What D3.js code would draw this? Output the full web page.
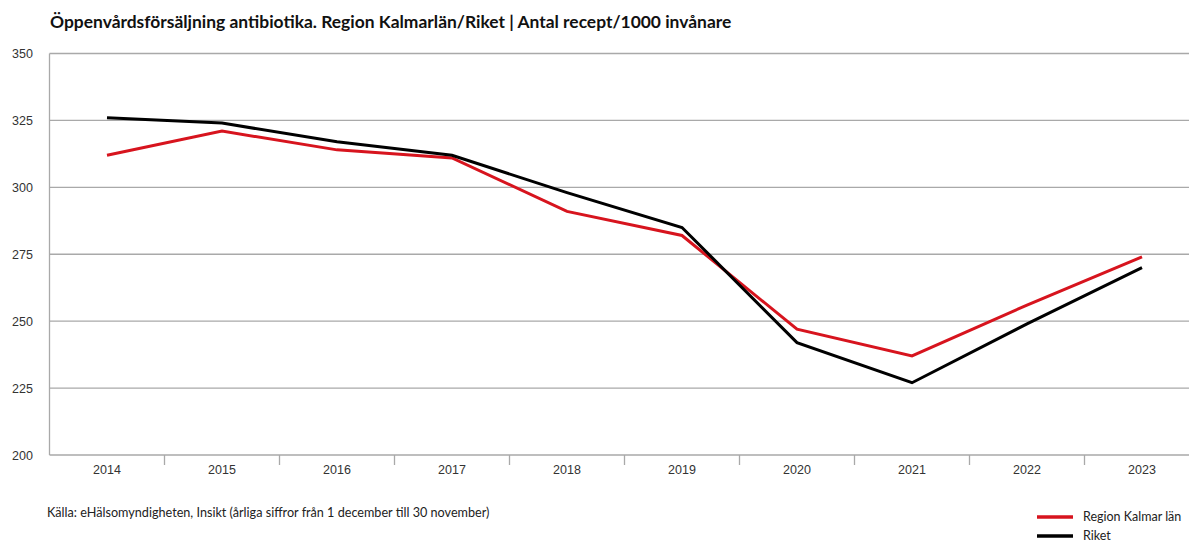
<!DOCTYPE html>
<html lang="sv">
<head>
<meta charset="utf-8">
<script src="https://cdn.jsdelivr.net/npm/d3@7"></script>
<style>
  html, body { margin: 0; padding: 0; background: #fff; }
  svg { display: block; }
  .title { font-family: Lato, "Open Sans", sans-serif; font-weight: 700; fill: #111; }
  .tick-label { font-family: "Liberation Sans Narrow", "Arial Narrow", "Liberation Sans", sans-serif; fill: #333; }
  .note { font-family: Lato, "Open Sans", sans-serif; fill: #222; }
</style>
</head>
<body>
<svg id="chart" width="1189" height="542"></svg>
<script>
// Antibiotic prescriptions in outpatient care, per 1000 inhabitants
const years = ["2014", "2015", "2016", "2017", "2018", "2019", "2020", "2021", "2022", "2023"];
const kalmar = [312, 321, 314, 311, 291, 282, 247, 237, 256, 274];
const riket  = [326, 324, 317, 312, 298, 285, 242, 227, 249, 270];
const yTicks = [200, 225, 250, 275, 300, 325, 350];
const seriesNames = ["Region Kalmar län", "Riket"];
const seriesColors = ["#d7141e", "#000000"];

const titleText = "Öppenvårdsförsäljning antibiotika. Region Kalmarlän/Riket | Antal recept/1000 invånare";
const sourceText = "Källa: eHälsomyndigheten, Insikt (årliga siffror från 1 december till 30 november)";

const W = 1189, H = 542;
const plot = { left: 49.5, right: 1199.5, top: 53.5, bottom: 455 };

const svg = d3.select("#chart");

const x = d3.scaleBand().domain(years).range([plot.left, plot.right]).paddingInner(0).paddingOuter(0);
const y = d3.scaleLinear().domain([200, 350]).range([plot.bottom, plot.top]);

// Fit a text element to a target width by adjusting its font size
function fitWidth(sel, size, width) {
  sel.attr("font-size", size);
  const w = sel.node().getComputedTextLength();
  sel.attr("font-size", size * width / w);
}

// Title
const title = svg.append("text").attr("class", "title")
  .attr("x", 50).attr("y", 28).text(titleText);
fitWidth(title, 16.5, 682);

// Horizontal gridlines
svg.append("g").selectAll("line").data(yTicks).join("line")
  .attr("x1", plot.left).attr("x2", W)
  .attr("y1", d => y(d)).attr("y2", d => y(d))
  .attr("stroke", "#a9a9a9").attr("stroke-width", 1.3);

// Left axis line
svg.append("line")
  .attr("x1", plot.left).attr("x2", plot.left)
  .attr("y1", plot.top).attr("y2", plot.bottom)
  .attr("stroke", "#a9a9a9").attr("stroke-width", 1.3);

// Y tick labels
svg.append("g").selectAll("text").data(yTicks).join("text")
  .attr("class", "tick-label")
  .attr("x", 12).attr("y", d => y(d) + 4.5)
  .attr("font-size", 12.5)
  .text(d => d);

// X axis: category separators and labels
const sep = years.slice(1).map(d => x(d));
svg.append("g").selectAll("line").data(sep).join("line")
  .attr("x1", d => d).attr("x2", d => d)
  .attr("y1", plot.bottom).attr("y2", plot.bottom + 10)
  .attr("stroke", "#a9a9a9").attr("stroke-width", 1.3);

svg.append("g").selectAll("text").data(years).join("text")
  .attr("class", "tick-label")
  .attr("x", d => x(d) + x.bandwidth() / 2)
  .attr("y", plot.bottom + 19)
  .attr("text-anchor", "middle")
  .attr("font-size", 12.5)
  .text(d => d);

// Lines
const line = d3.line()
  .x((d, i) => x(years[i]) + x.bandwidth() / 2)
  .y(d => y(d));

[kalmar, riket].forEach((vals, k) => {
  svg.append("path")
    .datum(vals)
    .attr("d", line)
    .attr("fill", "none")
    .attr("stroke", seriesColors[k])
    .attr("stroke-width", 3)
    .attr("stroke-linejoin", "miter");
});

// Source note
const note = svg.append("text").attr("class", "note")
  .attr("x", 47).attr("y", 517).text(sourceText);
fitWidth(note, 11.5, 443);

// Legend
const legend = svg.append("g");
seriesNames.forEach((name, k) => {
  const ly = 517 + k * 19;
  legend.append("line")
    .attr("x1", 1037).attr("x2", 1073).attr("y1", ly).attr("y2", ly)
    .attr("stroke", seriesColors[k]).attr("stroke-width", 3.5);
  legend.append("text").attr("class", "note")
    .attr("x", 1083).attr("y", ly + 4).attr("font-size", 12.5)
    .text(name);
});
</script>
</body>
</html>
